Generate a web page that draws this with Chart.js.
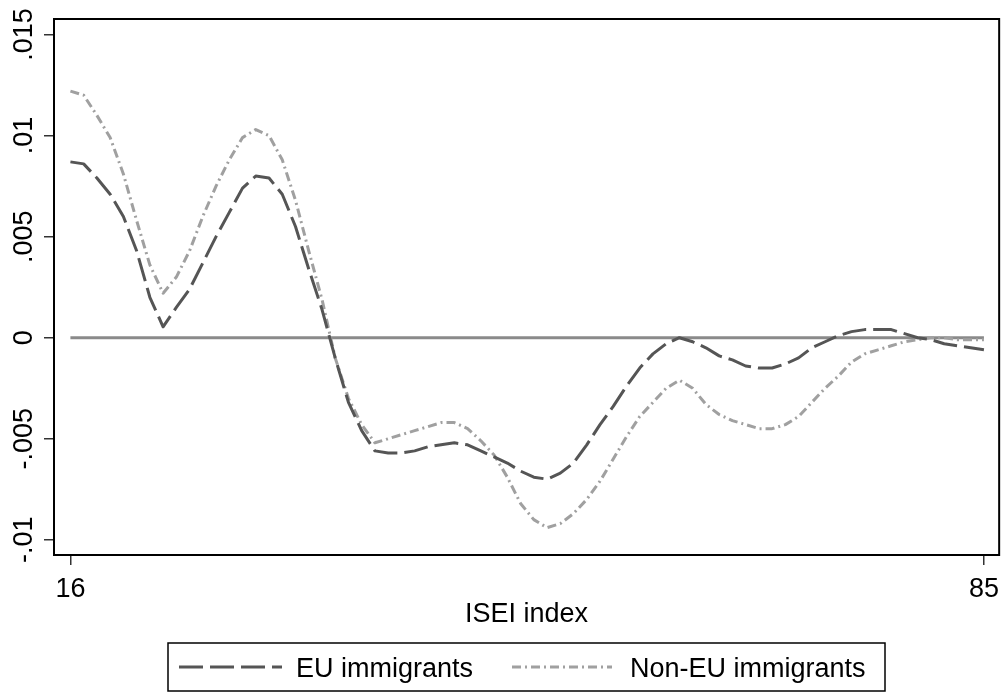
<!DOCTYPE html>
<html lang="en">

<head>
  <meta charset="UTF-8" />
  <title>ISEI index</title>
  <script src="https://cdn.jsdelivr.net/npm/chart.js"></script>
  <style>
    html,
    body {
      margin: 0;
      padding: 0;
      background-color: #fff;
    }

    #chart-container {
      width: 1007px;
      height: 693px;
      position: relative;
    }
  </style>
</head>

<body>
  <div id="chart-container">
    <canvas id="iseiChart"></canvas>
  </div>

  <script>
    // ISEI index values (x)
    const isei = [16, 17, 18, 19, 20, 21, 22, 23, 24, 25, 26, 27, 28, 29, 30, 31, 32, 33, 34, 35,
      36, 37, 38, 39, 40, 41, 42, 43, 44, 45, 46, 47, 48, 49, 50, 51, 52, 53, 54, 55,
      56, 57, 58, 59, 60, 61, 62, 63, 64, 65, 66, 67, 68, 69, 70, 71, 72, 73, 74, 75,
      76, 77, 78, 79, 80, 81, 82, 83, 84, 85];

    const euValues = [0.0087, 0.0086, 0.0079, 0.0071, 0.0060, 0.0043, 0.0020, 0.00054, 0.0015, 0.0024,
      0.0037, 0.0050, 0.0062, 0.0074, 0.0080, 0.0079, 0.0071, 0.0055, 0.0034, 0.0014,
      -0.0010, -0.0032, -0.0046, -0.0056, -0.0057, -0.0057, -0.0056, -0.0054, -0.0053, -0.0052,
      -0.0053, -0.0056, -0.0059, -0.0062, -0.0066, -0.0069, -0.0070, -0.0067, -0.0062, -0.0053,
      -0.0043, -0.0034, -0.0024, -0.0015, -0.0008, -0.0003, 0.0000, -0.0002, -0.0005, -0.0009,
      -0.0011, -0.0014, -0.0015, -0.0015, -0.0013, -0.0010, -0.0005, -0.0002, 0.0001, 0.0003,
      0.0004, 0.0004, 0.0004, 0.0002, 0.0000, -0.0001, -0.0003, -0.0004, -0.0005, -0.0006];

    const nonEuValues = [0.0122, 0.0120, 0.0110, 0.0099, 0.0081, 0.0058, 0.0036, 0.0022, 0.0030, 0.0043,
      0.0060, 0.0075, 0.0088, 0.0099, 0.0103, 0.0100, 0.0088, 0.0068, 0.0043, 0.0019,
      -0.0010, -0.0030, -0.0043, -0.0052, -0.0050, -0.0048, -0.0046, -0.0044, -0.0042, -0.0042,
      -0.0045, -0.0051, -0.0058, -0.0069, -0.0082, -0.0090, -0.0094, -0.0092, -0.0087, -0.0080,
      -0.0071, -0.0060, -0.0049, -0.0039, -0.0032, -0.0025, -0.0021, -0.0025, -0.0033, -0.0038,
      -0.0041, -0.0043, -0.0045, -0.0045, -0.0043, -0.0039, -0.0032, -0.0025, -0.0019, -0.0012,
      -0.0008, -0.0006, -0.0004, -0.0002, -0.0001, 0.0000, 0.0000, -0.0001, -0.0001, -0.0001];

    // reference line at zero
    const refX = [16, 85];
    const refY = [0, 0];

    const xTicks = [16, 85];
    const yTicks = [-0.01, -0.005, 0, 0.005, 0.01, 0.015];
    const yTickLabels = ['-.01', '-.005', '0', '.005', '.01', '.015'];

    const seriesLabels = ['EU immigrants', 'Non-EU immigrants'];

    const FONT = "'Liberation Sans', Arial, Helvetica, sans-serif";
    Chart.defaults.font.family = FONT;
    Chart.defaults.font.size = 27;
    Chart.defaults.color = '#000';

    const toPoints = (xs, ys) => xs.map((x, i) => ({ x: x, y: ys[i] }));

    // frame, rotated y labels and boxed legend
    const stataPlugin = {
      id: 'stataLook',
      afterDraw(chart) {
        const ctx = chart.ctx;
        const area = chart.chartArea;
        const yScale = chart.scales.y;

        ctx.save();
        ctx.strokeStyle = '#000';
        ctx.lineWidth = 2;
        ctx.strokeRect(area.left, area.top, area.right - area.left, area.bottom - area.top);

        // y tick labels, rotated
        ctx.fillStyle = '#000';
        ctx.font = '27px ' + FONT;
        ctx.textAlign = 'center';
        ctx.textBaseline = 'middle';
        yTicks.forEach((v, i) => {
          const py = yScale.getPixelForValue(v);
          ctx.save();
          ctx.translate(25, py);
          ctx.rotate(-Math.PI / 2);
          ctx.fillText(yTickLabels[i], 0, 0);
          ctx.restore();
        });

        // legend
        const boxW = 717, boxH = 48;
        const boxX = Math.round((area.left + area.right) / 2 - boxW / 2);
        const boxY = 643;
        ctx.lineWidth = 1.5;
        ctx.strokeStyle = '#000';
        ctx.strokeRect(boxX, boxY, boxW, boxH);

        const items = [
          { ds: chart.data.datasets[0], x0: boxX + 11, x1: boxX + 114, tx: boxX + 128 },
          { ds: chart.data.datasets[1], x0: boxX + 344, x1: boxX + 444, tx: boxX + 462 }
        ];
        const midY = boxY + 24;
        items.forEach(it => {
          ctx.beginPath();
          ctx.setLineDash(it.ds.borderDash);
          ctx.strokeStyle = it.ds.borderColor;
          ctx.lineWidth = it.ds.borderWidth;
          ctx.moveTo(it.x0, midY);
          ctx.lineTo(it.x1, midY);
          ctx.stroke();
          ctx.setLineDash([]);
          ctx.fillStyle = '#000';
          ctx.textAlign = 'left';
          ctx.textBaseline = 'alphabetic';
          ctx.fillText(it.ds.label, it.tx, boxY + 34);
        });
        ctx.restore();
      }
    };

    const ctx = document.getElementById('iseiChart').getContext('2d');

    const iseiChart = new Chart(ctx, {
      type: 'line',
      data: {
        datasets: [{
          label: seriesLabels[0],
          data: toPoints(isei, euValues),
          borderColor: '#555555',
          borderWidth: 3,
          borderDash: [24, 7],
          borderJoinStyle: 'round',
          pointRadius: 0,
          tension: 0
        }, {
          label: seriesLabels[1],
          data: toPoints(isei, nonEuValues),
          borderColor: '#a0a0a0',
          borderWidth: 3,
          borderDash: [9, 4, 2, 4],
          borderJoinStyle: 'round',
          pointRadius: 0,
          tension: 0
        }, {
          label: '',
          data: toPoints(refX, refY),
          borderColor: '#8a8a8a',
          borderWidth: 3,
          pointRadius: 0,
          tension: 0
        }]
      },
      options: {
        responsive: true,
        maintainAspectRatio: false,
        animation: false,
        devicePixelRatio: 1,
        layout: {
          padding: { top: 19, right: 3, bottom: 58, left: 0 }
        },
        scales: {
          x: {
            type: 'linear',
            min: 14.76,
            max: 86.15,
            afterBuildTicks: s => { s.ticks = xTicks.map(v => ({ value: v })); },
            afterFit: s => { s.height = 80; },
            ticks: {
              color: '#000',
              padding: 8,
              maxRotation: 0,
              autoSkip: false,
              font: { size: 27 }
            },
            grid: {
              drawOnChartArea: false,
              drawTicks: true,
              tickLength: 10,
              color: '#333',
              lineWidth: 1.5
            },
            border: { display: true, color: '#000', width: 2 },
            title: {
              display: true,
              text: 'ISEI index',
              color: '#000',
              font: { size: 27 },
              padding: { top: 0, bottom: 4 }
            }
          },
          y: {
            type: 'linear',
            min: -0.010751,
            max: 0.015768,
            afterBuildTicks: s => { s.ticks = yTicks.map(v => ({ value: v })); },
            afterFit: s => { s.width = 54; },
            ticks: { display: false },
            grid: {
              drawOnChartArea: false,
              drawTicks: true,
              tickLength: 10,
              color: '#333',
              lineWidth: 1.5
            },
            border: { display: true, color: '#000', width: 2 }
          }
        },
        plugins: {
          legend: { display: false },
          tooltip: { enabled: false }
        }
      },
      plugins: [stataPlugin]
    });
  </script>
</body>

</html>
